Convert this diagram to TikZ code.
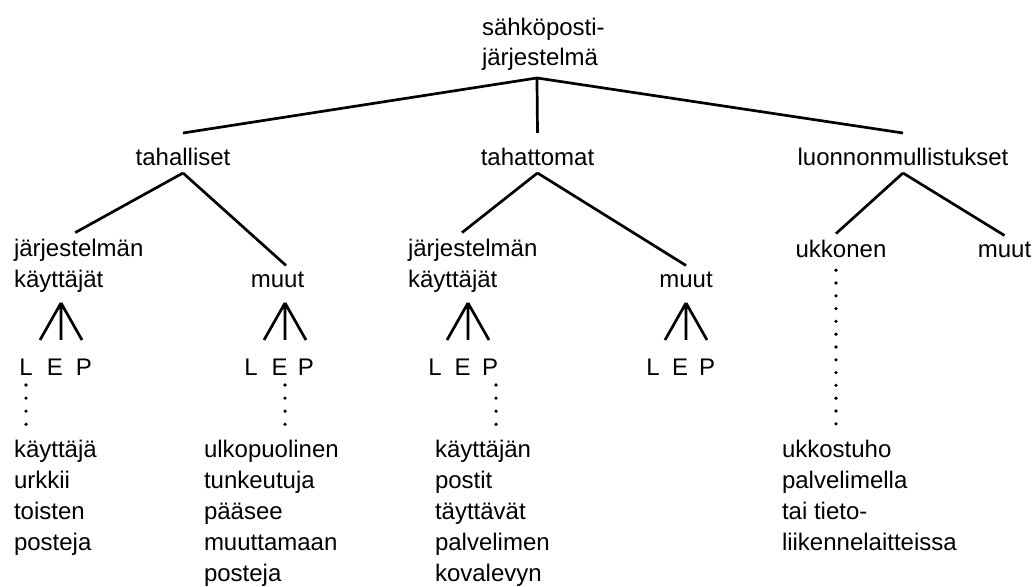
\documentclass[tikz,border=0pt]{standalone}
\usepackage{fontspec}
\setmainfont{Liberation Sans}
\tikzset{
    every node/.style={inner sep=0pt, outer sep=3.5pt, font=\fontsize{12}{15.5}\selectfont},
    txt/.style={align=left, anchor=base west},
    word/.style={anchor=base},
    branch/.style={word, text height=13pt, text depth=0pt},
    link/.style={black, line width=1.35pt},
    dotline/.style={black, line width=1.8pt, line cap=round, dash pattern=on 0pt off 6.55pt,
        shorten <=1pt, shorten >=4pt}
}

\begin{document}
\begin{tikzpicture}[x=0.5pt, y=-0.5pt]
    \useasboundingbox (0,0) rectangle (1033,587);
        % Root of the tree (base = last line)
        \node[txt, font=\fontsize{12}{15}\selectfont] (root) at (475,66) {sähköposti-\\järjestelmä};
        \coordinate (fork) at ([xshift=-3.2pt]root.south);
        % First level
        \node[branch] (tahall) at (183,166) {tahalliset};
        \node[branch] (tahatt) at (537.5,166) {tahattomat};
        \node[branch] (luonn) at (903,166) {luonnonmullistukset};
        \draw[link] (fork) -- (tahall.north)
                    (fork) -- (tahatt.north)
                    (fork) -- (luonn.north);
        % Second level
        \node[txt] (kaytt1) at (7,288) {järjestelmän\\käyttäjät};
        \node[word] (muut1) at (277.5,288) {muut};
        \node[txt] (kaytt2) at (401,288) {järjestelmän\\käyttäjät};
        \node[word] (muut2) at (686,288) {muut};
        \node[word] (ukk) at (841,258) {ukkonen};
        \node[word] (muut3) at (1004.5,258) {muut};
        \draw[link] (tahall.south) -- ([xshift=-1.75pt]kaytt1.north)
                    (tahall.south) -- ([xshift=4.25pt]muut1.north)
                    (tahatt.south) -- ([xshift=-5.35pt]kaytt2.north)
                    (tahatt.south) -- (muut2.north)
                    (luonn.south) -- ([xshift=-2.5pt]ukk.north)
                    (luonn.south) -- (muut3.north);
        % Forks towards L, E and P
        \coordinate (t1) at (61,303);
        \coordinate (t2) at (285,303);
        \coordinate (t3) at (468,303);
        \coordinate (t4) at (686,303);
        \draw[link] (t1) -- ++(-21,37) (t1) -- ++(0,37) (t1) -- ++(21,37);
        \draw[link] (t2) -- ++(-21,37) (t2) -- ++(0,37) (t2) -- ++(21,37);
        \draw[link] (t3) -- ++(-21,37) (t3) -- ++(0,37) (t3) -- ++(21,37);
        \draw[link] (t4) -- ++(-21,37) (t4) -- ++(0,37) (t4) -- ++(21,37);
        \node[word] (l1) at (26,376) {L};
        \node[word] (e1) at (55,376) {E};
        \node[word] (p1) at (84,376) {P};
        \node[word] (l2) at (251,376) {L};
        \node[word] (e2) at (279.5,376) {E};
        \node[word] (p2) at (306,376) {P};
        \node[word] (l3) at (435,376) {L};
        \node[word] (e3) at (462.5,376) {E};
        \node[word] (p3) at (490,376) {P};
        \node[word] (l4) at (653,376) {L};
        \node[word] (e4) at (680,376) {E};
        \node[word] (p4) at (707,376) {P};
        % Examples
        \node[txt] (leaf1) at (7,550) {käyttäjä\\urkkii\\toisten\\posteja};
        \node[txt] (leaf2) at (197,581) {ulkopuolinen\\tunkeutuja\\pääsee\\muuttamaan\\posteja};
        \node[txt] (leaf3) at (428,581) {käyttäjän\\postit\\täyttävät\\palvelimen\\kovalevyn};
        \node[txt] (leaf4) at (775,550) {ukkostuho\\palvelimella\\tai tieto-\\liikennelaitteissa};
        \draw[dotline] (l1.south) -- (l1.south |- leaf1.north);
        \draw[dotline] ([xshift=2.75pt]e2.south) -- ([xshift=2.75pt]e2.south |- leaf2.north);
        \draw[dotline] ([xshift=3pt]p3.south) -- ([xshift=3pt]p3.south |- leaf3.north);
        \draw[dotline, shorten <=2.5pt, dash pattern=on 0pt off 6.4pt]
            ([xshift=-2.5pt]ukk.south) -- ([xshift=-2.5pt]ukk.south |- leaf4.north);
\end{tikzpicture}
\end{document}
